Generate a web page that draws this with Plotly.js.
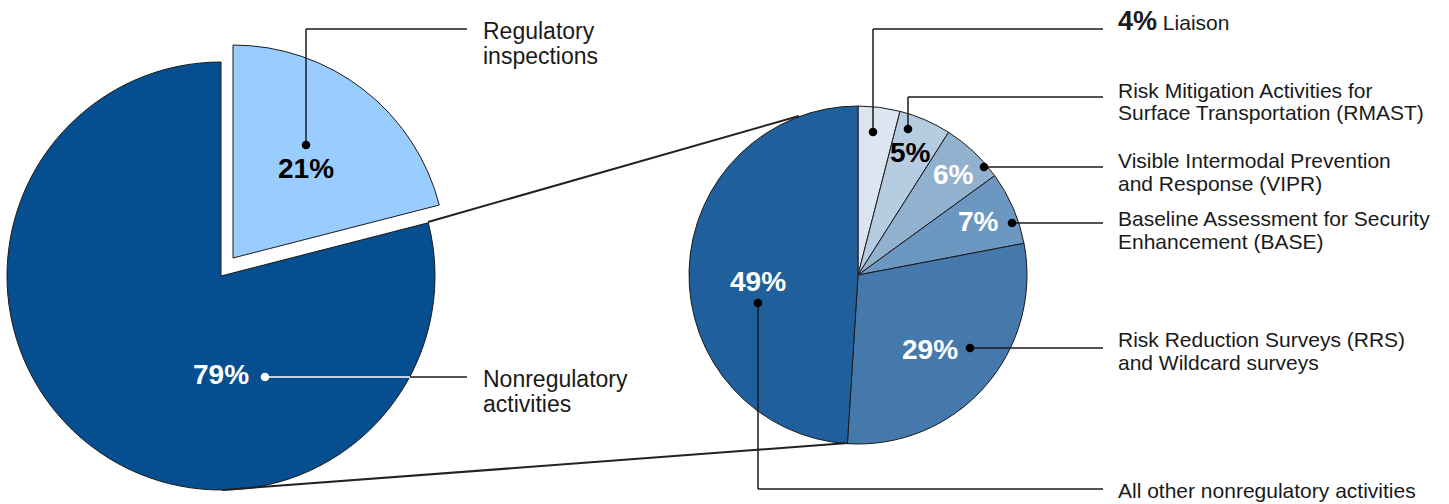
<!DOCTYPE html>
<html>
<head>
<meta charset="utf-8">
<script src="https://cdn.plot.ly/plotly-3.0.1.min.js"></script>
<style>html,body{margin:0;padding:0;background:#fff;}#chart{width:1449px;height:504px;}</style>
</head>
<body>
<div id="chart"></div>
<script>
// ---- data ----
const leftLabels = ["Regulatory inspections", "Nonregulatory activities"];
const leftValues = [21, 79];
const leftColors = ["#99ccff", "#054e8f"];

const rightLabels = [
  "Liaison",
  "Risk Mitigation Activities for Surface Transportation (RMAST)",
  "Visible Intermodal Prevention and Response (VIPR)",
  "Baseline Assessment for Security Enhancement (BASE)",
  "Risk Reduction Surveys (RRS) and Wildcard surveys",
  "All other nonregulatory activities"
];
const rightValues = [4, 5, 6, 7, 29, 49];
const rightColors = ["#dce6f0", "#b6cce1", "#91b1cf", "#6b97c1", "#4579ab", "#1f5f9b"];

// label line breaks (display text)
const leftLabelLines = [["Regulatory", "inspections"], ["Nonregulatory", "activities"]];
const rightLabelLines = [
  ["Liaison"],
  ["Risk Mitigation Activities for", "Surface Transportation (RMAST)"],
  ["Visible Intermodal Prevention", "and Response (VIPR)"],
  ["Baseline Assessment for Security", "Enhancement (BASE)"],
  ["Risk Reduction Surveys (RRS)", "and Wildcard surveys"],
  ["All other nonregulatory activities"]
];

// ---- layout helpers (pixel -> paper) ----
const W = 1449, H = 504;
const px = x => x / W;
const py = y => 1 - y / H;
function dom(cx, cy, r) {
  return { x: [px(cx - r), px(cx + r)], y: [py(cy + r), py(cy - r)] };
}
const FONT = "Liberation Sans, Arial, Helvetica, sans-serif";
const EDGE = "#1a1a1a";
const NONE = "rgba(0,0,0,0)";

const common = { type: "pie", sort: false, direction: "clockwise", rotation: 0,
  textinfo: "none", hoverinfo: "none", showlegend: false };

const traces = [
  Object.assign({}, common, {
    labels: leftLabels, values: leftValues, domain: dom(221, 276, 214),
    marker: { colors: [NONE, leftColors[1]], line: { color: [NONE, EDGE], width: 1 } }
  }),
  Object.assign({}, common, {
    labels: leftLabels, values: leftValues, domain: dom(233, 258, 213),
    marker: { colors: [leftColors[0], NONE], line: { color: [EDGE, NONE], width: 1 } }
  }),
  Object.assign({}, common, {
    labels: rightLabels, values: rightValues, domain: dom(858, 275, 169),
    marker: { colors: rightColors, line: { color: EDGE, width: 1 } }
  })
];

const shapes = [];
function seg(x0, y0, x1, y1, color, w) {
  shapes.push({ type: "line", xref: "paper", yref: "paper", x0: px(x0), y0: py(y0), x1: px(x1), y1: py(y1),
    line: { color: color || EDGE, width: w || 1.5 } });
}
function poly(pts, color, w) { for (let i = 1; i < pts.length; i++) seg(pts[i-1][0], pts[i-1][1], pts[i][0], pts[i][1], color, w); }
function dot(x, y, color) {
  const r = 4.3;
  shapes.push({ type: "circle", xref: "paper", yref: "paper", x0: px(x - r), x1: px(x + r), y0: py(y + r), y1: py(y - r),
    fillcolor: color || "#000", line: { width: 0 } });
}

// connecting lines between pies
seg(428, 222, 799, 116, "#222", 2);
seg(222, 490, 848, 443, "#222", 2);

// leader lines
poly([[306, 145], [306, 29], [467, 29]]); dot(306, 145);
seg(265, 377, 410, 377, "#ffffff", 1.5); seg(410, 377, 467, 377); dot(265, 377, "#ffffff");
poly([[873, 132], [873, 29], [1103, 29]]); dot(873, 132);
poly([[908, 129], [908, 97], [1103, 97]]); dot(908, 129);
seg(984, 167, 1103, 167); dot(984, 167);
seg(1012, 223, 1103, 223); dot(1012, 223);
seg(970, 348, 1103, 348); dot(970, 348);
poly([[758, 303], [758, 489], [1103, 489]]); dot(758, 303);

const annotations = [];
function txt(x, y, text, opts) {
  annotations.push(Object.assign({ xref: "paper", yref: "paper", x: px(x), y: py(y), text: text,
    showarrow: false, xanchor: "left", yanchor: "middle",
    font: { family: FONT, size: 21, color: "#1a1a1a" } }, opts || {}));
}
function pct(v) { return "<b>" + v + "%</b>"; }
function pctLabel(x, y, v, color) {
  txt(x, y, pct(v), { xanchor: "center", font: { family: FONT, size: 28, color: color } });
}

// percentage labels
pctLabel(306, 169, leftValues[0], "#000");
pctLabel(221, 374, leftValues[1], "#ffffff");
pctLabel(911, 152, rightValues[1], "#000");
pctLabel(953, 174, rightValues[2], "#ffffff");
pctLabel(979, 221, rightValues[3], "#ffffff");
pctLabel(930, 349, rightValues[4], "#ffffff");
pctLabel(758, 281, rightValues[5], "#ffffff");

// category labels
const leftFont = { family: FONT, size: 23, color: "#1a1a1a" };
txt(481, 31, leftLabelLines[0][0], { font: leftFont }); txt(481, 56, leftLabelLines[0][1], { font: leftFont });
txt(481, 379, leftLabelLines[1][0], { font: leftFont }); txt(481, 404, leftLabelLines[1][1], { font: leftFont });

txt(1116, 21, '<span style="font-size:27px"><b>' + rightValues[0] + '%</b></span> ' + rightLabelLines[0][0]);
txt(1116, 90, rightLabelLines[1][0]); txt(1116, 90 + 23, rightLabelLines[1][1]);
txt(1116, 160, rightLabelLines[2][0]); txt(1116, 160 + 23, rightLabelLines[2][1]);
txt(1116, 218, rightLabelLines[3][0]); txt(1116, 218 + 23, rightLabelLines[3][1]);
txt(1116, 339, rightLabelLines[4][0]); txt(1116, 339 + 23, rightLabelLines[4][1]);
txt(1116, 490, rightLabelLines[5][0]);

Plotly.newPlot("chart", traces, {
  width: W, height: H, margin: { l: 0, r: 0, t: 0, b: 0 },
  paper_bgcolor: "#ffffff", plot_bgcolor: "#ffffff",
  shapes: shapes, annotations: annotations, showlegend: false
}, { displayModeBar: false, staticPlot: true });
</script>
</body>
</html>
